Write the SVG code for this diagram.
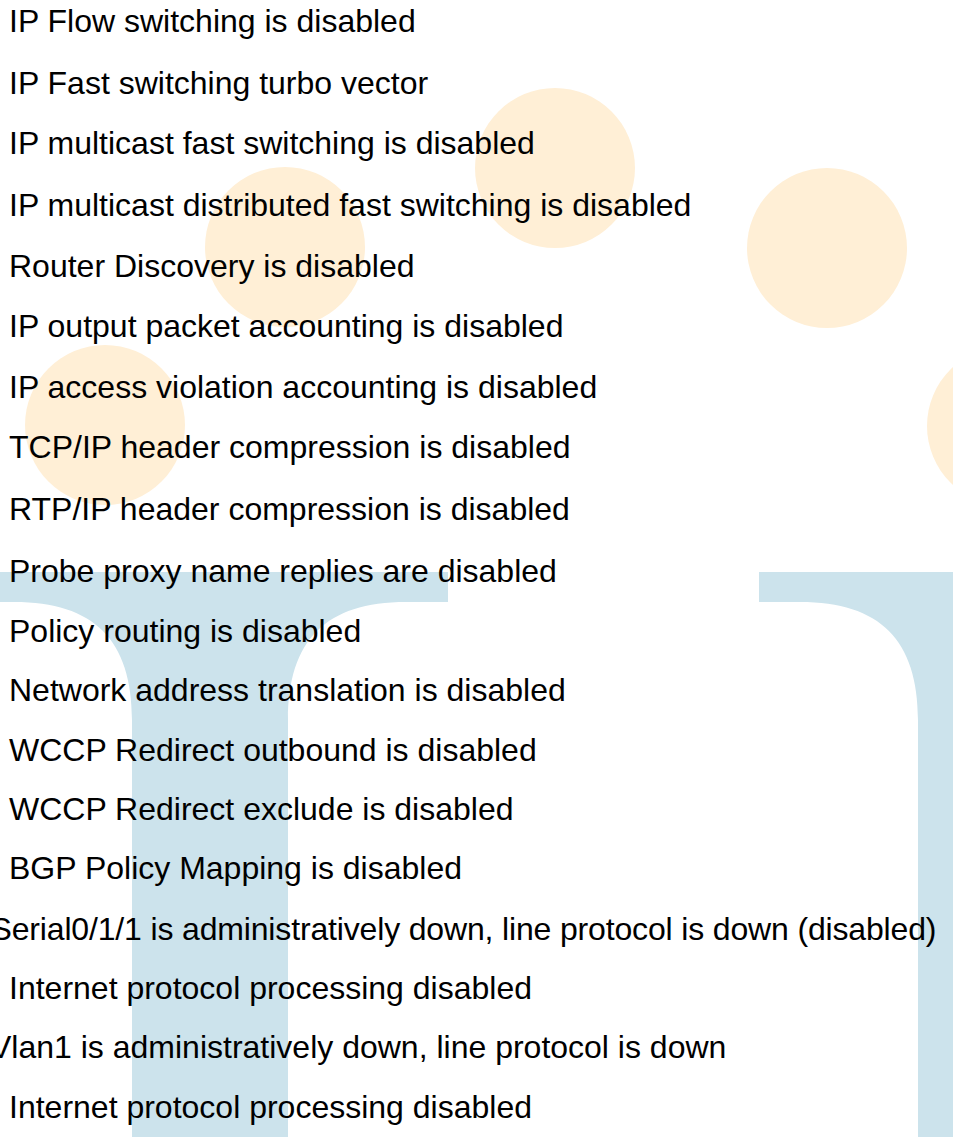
<svg xmlns="http://www.w3.org/2000/svg" width="953" height="1137" viewBox="0 0 953 1137">
  <style>
    .dot { fill: #FFEFD6; }
    .pillar { fill: #CCE3EC; }
    .line { font-family: "Liberation Sans", Arial, sans-serif; font-size: 32px; fill: #000000; }
  </style>
  <rect x="0" y="0" width="953" height="1137" fill="#FFFFFF"/>

  <!-- watermark: arc of soft dots -->
  <g id="dots">
    <circle class="dot" cx="105" cy="425" r="80"/>
    <circle class="dot" cx="285" cy="247" r="80"/>
    <circle class="dot" cx="555" cy="168" r="80"/>
    <circle class="dot" cx="827" cy="248" r="80"/>
    <circle class="dot" cx="1007" cy="426" r="80"/>
  </g>

  <!-- watermark: flared pillars -->
  <g id="pillars">
    <path class="pillar" d="M -30 572 H 448 V 602 H 406 C 326 602 288 640 288 720 V 1137 H 132 V 720 C 132 640 94 602 14 602 H -30 Z"/>
    <path class="pillar" d="M 759 572 H 960 V 1137 H 918 V 720 C 918 640 880 602 800 602 H 759 Z"/>
  </g>

  <!-- interface status listing -->
  <g id="listing" class="line">
    <text x="9" y="32">IP Flow switching is disabled</text>
    <text x="9" y="94">IP Fast switching turbo vector</text>
    <text x="9" y="154">IP multicast fast switching is disabled</text>
    <text x="9" y="216">IP multicast distributed fast switching is disabled</text>
    <text x="9" y="277">Router Discovery is disabled</text>
    <text x="9" y="337">IP output packet accounting is disabled</text>
    <text x="9" y="398">IP access violation accounting is disabled</text>
    <text x="9" y="458">TCP/IP header compression is disabled</text>
    <text x="9" y="520">RTP/IP header compression is disabled</text>
    <text x="9" y="582">Probe proxy name replies are disabled</text>
    <text x="9" y="642">Policy routing is disabled</text>
    <text x="9" y="701">Network address translation is disabled</text>
    <text x="9" y="761">WCCP Redirect outbound is disabled</text>
    <text x="9" y="820">WCCP Redirect exclude is disabled</text>
    <text x="9" y="879">BGP Policy Mapping is disabled</text>
    <text x="-9.5" y="940" textLength="946" lengthAdjust="spacing">Serial0/1/1 is administratively down, line protocol is down (disabled)</text>
    <text x="9" y="999">Internet protocol processing disabled</text>
    <text x="-10" y="1058">Vlan1 is administratively down, line protocol is down</text>
    <text x="9" y="1118">Internet protocol processing disabled</text>
  </g>
</svg>
